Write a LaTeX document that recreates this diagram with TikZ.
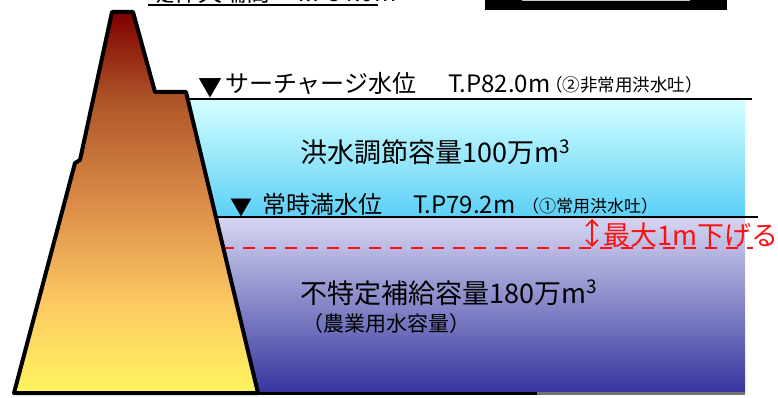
\documentclass[tikz,border=0pt]{standalone}
\usepackage{fontspec}
\setmainfont{Noto Sans CJK JP}
\usetikzlibrary{arrows.meta}

\definecolor{damA}{HTML}{FFF460}
\definecolor{damB}{HTML}{FCC862}
\definecolor{damC}{HTML}{DA8C48}
\definecolor{damD}{HTML}{B0582A}
\definecolor{damE}{HTML}{7E0000}
\definecolor{floodTop}{HTML}{D4FFFF}
\definecolor{floodMid}{HTML}{66F6FF}
\definecolor{floodBot}{HTML}{5CD0F6}
\definecolor{poolTop}{HTML}{D6D6F2}
\definecolor{poolMid}{HTML}{8E8ED2}
\definecolor{poolBot}{HTML}{35359E}
\definecolor{alertred}{HTML}{FF1010}

% TikZ fits the 25bp--75bp band of a shading to the path's bounding box
\pgfdeclareverticalshading{damfill}{100bp}{color(0bp)=(damA); color(25bp)=(damA); color(37bp)=(damB); color(50bp)=(damC); color(63bp)=(damD); color(75bp)=(damE); color(100bp)=(damE)}

\tikzset{
  lbl/.style={inner sep=0pt, anchor=base west, text=black},
  fs/.style={font=\fontsize{#1}{#1}\selectfont},
  levelline/.style={line width=2pt, draw=black},
  barb/.tip={Straight Barb[length=6pt,width=12pt]},
}

\begin{document}
\begin{tikzpicture}[x=1pt, y=-1pt]
\useasboundingbox (0,0) rectangle (778,398);

% reservoir water: flood-control band and usable storage band
\shade[top color=floodTop, middle color=floodMid, bottom color=floodBot]
  (180,99) rectangle (745,217);
\shade[top color=poolTop, middle color=poolMid, bottom color=poolBot]
  (180,217) rectangle (745,393);

% water levels
\draw[levelline] (186,99) -- (752,99);
\draw[levelline] (210,217) -- (758,217);
\draw[alertred, line width=2pt, dash pattern=on 12pt off 9pt] (222,248) -- (753,248);
\draw[line width=3pt, black] (250,393) -- (537,393);
\draw[line width=3pt, black!55] (537,393) -- (745,393);

% dam body
\shade[shading=damfill, draw=black, line width=4pt, line join=round]
  (112,12) -- (133,12) -- (155,92) -- (186,92) -- (258,393) -- (14,393)
  -- (75,163) -- (80,160) -- cycle;

% crest elevation label at the top edge
\node[lbl, fs=24] (crest) at (150,2) {堤体天端高　T.P84.0m};
\draw[line width=2pt] (148,5) -- (378,5);

% box at the upper right
\fill[black] (485,-10) rectangle (727,10);
\draw[line width=1.5pt, black!22] (522,0.5) -- (690,0.5);

% surcharge level labels
\node[lbl, fs=24] (tri1) at (198,97) {▼};
\node[lbl, fs=24] (sv) at (225,93) {サーチャージ水位};
\node[lbl, fs=24] (sve) at (448,93) {T.P82.0m};
\node[lbl, fs=17.5] (svs) at (545,92) {（②非常用洪水吐）};

% normal level labels
\node[lbl, fs=22] (tri2) at (230,215) {▼};
\node[lbl, fs=24] (nw) at (262,213) {常時満水位};
\node[lbl, fs=24] (nwe) at (413,213) {T.P79.2m};
\node[lbl, fs=17] (nws) at (522,212) {（①常用洪水吐）};

% drawdown
\coordinate (dtop) at (592,219);
\coordinate (dbot) at (592,247);
\draw[alertred, line width=1.6pt, barb-barb] (dtop) -- (dbot);
\node[lbl, fs=27, text=alertred] (dd) at (603,245) {最大1m下げる};

% storage volumes
\node[lbl, fs=27] (flood) at (300,163) {洪水調節容量100万m\textsuperscript{3}};
\node[lbl, fs=27] (supply) at (300,303) {不特定補給容量180万m\textsuperscript{3}};
\node[lbl, fs=21] (agri) at (302,331) {（農業用水容量）};
\end{tikzpicture}
\end{document}
